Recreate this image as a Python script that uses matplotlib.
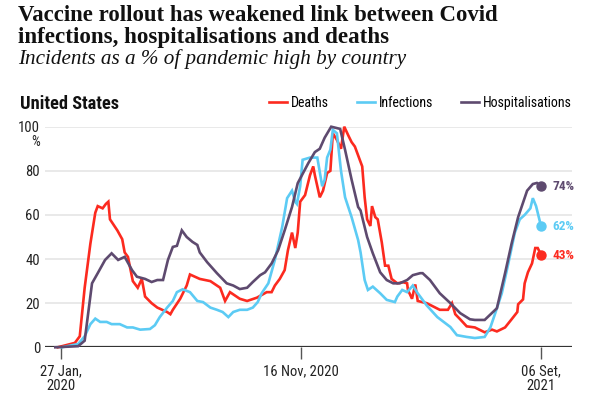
import matplotlib
matplotlib.use("Agg")
import matplotlib.pyplot as plt
import pandas as pd

# values (% of pandemic high)
deaths_dates = ["2020-01-23", "2020-02-13", "2020-02-19", "2020-02-25", "2020-03-03", "2020-03-09",
                "2020-03-12", "2020-03-18", "2020-03-22", "2020-03-25", "2020-03-27", "2020-04-05",
                "2020-04-11", "2020-04-14", "2020-04-18", "2020-04-24", "2020-04-30", "2020-05-05",
                "2020-05-09", "2020-05-17", "2020-05-24", "2020-06-05", "2020-06-09", "2020-06-12",
                "2020-06-21", "2020-06-29", "2020-07-03", "2020-07-15", "2020-07-28", "2020-08-09",
                "2020-08-15", "2020-08-21", "2020-09-02", "2020-09-11", "2020-09-23", "2020-10-05",
                "2020-10-11", "2020-10-15", "2020-10-21", "2020-10-27", "2020-10-31", "2020-11-05",
                "2020-11-09", "2020-11-12", "2020-11-15", "2020-11-21", "2020-11-27", "2020-12-01",
                "2020-12-03", "2020-12-09", "2020-12-13", "2020-12-18", "2020-12-22", "2020-12-25",
                "2020-12-30", "2021-01-04", "2021-01-08", "2021-01-13", "2021-01-17", "2021-01-21",
                "2021-01-30", "2021-02-02", "2021-02-05", "2021-02-09", "2021-02-11", "2021-02-15",
                "2021-02-18", "2021-02-23", "2021-02-27", "2021-03-03", "2021-03-07", "2021-03-14",
                "2021-03-21", "2021-03-26", "2021-03-27", "2021-04-01", "2021-04-05", "2021-04-08",
                "2021-04-19", "2021-04-27", "2021-05-05", "2021-05-15", "2021-05-20", "2021-05-24",
                "2021-05-30", "2021-06-07", "2021-06-17", "2021-06-29", "2021-07-08", "2021-07-14",
                "2021-07-24", "2021-08-01", "2021-08-08", "2021-08-09", "2021-08-15", "2021-08-17",
                "2021-08-21", "2021-08-26", "2021-08-30", "2021-09-02", "2021-09-06"]
deaths = [0, 2, 5, 27, 47, 61,
          64, 63, 65, 66, 58, 53,
          49, 43, 41, 30, 27, 31,
          23, 20, 18, 16, 15, 17,
          22, 28, 33, 31, 30, 27,
          21, 25, 22, 21, 22.5, 25,
          25, 28, 31, 35, 44, 52,
          45, 52, 66, 69, 78, 82,
          78, 68, 71, 79, 80, 97,
          94, 90, 100, 96, 93, 91,
          82, 68, 58, 55, 64, 59,
          58, 47.5, 37, 37, 31, 29,
          29.5, 29, 26, 22, 28.5, 21,
          20, 18.5, 17, 17, 20, 15,
          12.7, 9.5, 9, 6.8, 8, 7.2,
          9, 12.7, 16, 19.5, 21.7, 29,
          34, 38, 45, 45, 42]

infections_dates = ["2020-01-28", "2020-02-17", "2020-02-25", "2020-03-03", "2020-03-09", "2020-03-15",
                    "2020-03-23", "2020-03-29", "2020-04-08", "2020-04-17", "2020-04-24", "2020-05-03",
                    "2020-05-15", "2020-05-21", "2020-05-27", "2020-06-05", "2020-06-12", "2020-06-17",
                    "2020-06-24", "2020-07-03", "2020-07-12", "2020-07-19", "2020-07-28", "2020-08-05",
                    "2020-08-12", "2020-08-19", "2020-08-25", "2020-09-02", "2020-09-11", "2020-09-18",
                    "2020-09-24", "2020-09-29", "2020-10-07", "2020-10-15", "2020-10-24", "2020-10-30",
                    "2020-11-05", "2020-11-09", "2020-11-11", "2020-11-15", "2020-11-18", "2020-11-27",
                    "2020-12-06", "2020-12-12", "2020-12-15", "2020-12-18", "2020-12-22", "2020-12-25",
                    "2020-12-30", "2021-01-04", "2021-01-09", "2021-01-17", "2021-01-25", "2021-01-28",
                    "2021-02-02", "2021-02-06", "2021-02-12", "2021-02-21", "2021-03-01", "2021-03-11",
                    "2021-03-14", "2021-03-20", "2021-03-26", "2021-04-02", "2021-04-08", "2021-04-19",
                    "2021-05-02", "2021-05-18", "2021-05-26", "2021-06-07", "2021-06-17", "2021-06-29",
                    "2021-07-06", "2021-07-12", "2021-07-20", "2021-07-28", "2021-08-05", "2021-08-11",
                    "2021-08-17", "2021-08-24", "2021-08-27", "2021-08-31", "2021-09-02", "2021-09-06"]
infections = [0, 1.5, 5, 10.5, 13, 11.5,
              11.5, 10.5, 10.5, 9, 9, 8,
              8.3, 10, 13.7, 18, 21, 25,
              26.3, 25, 21, 20.5, 18, 17,
              16, 13.7, 16, 17, 17, 18,
              20.5, 24.6, 29, 39.6, 54.6, 67.6,
              71, 66, 65, 73, 85, 86,
              86, 73, 76, 86, 89.6, 98.6,
              97, 80, 68, 59, 48.6, 43,
              30.5, 26, 27.5, 24.5, 21.5, 20.5,
              23, 26, 25, 28, 24.5, 19,
              13.7, 9.2, 5.5, 4.7, 4.2, 4.7,
              9, 15.5, 24.5, 38, 52, 58,
              60, 63, 67.6, 64, 61, 55]

hosp_dates = ["2020-01-20", "2020-02-17", "2020-02-25", "2020-03-05", "2020-03-12", "2020-03-21",
              "2020-03-29", "2020-04-06", "2020-04-14", "2020-04-23", "2020-04-29", "2020-05-09",
              "2020-05-17", "2020-05-24", "2020-05-31", "2020-06-06", "2020-06-12", "2020-06-17",
              "2020-06-23", "2020-06-29", "2020-07-06", "2020-07-12", "2020-07-15", "2020-07-24",
              "2020-08-05", "2020-08-17", "2020-08-25", "2020-09-02", "2020-09-11", "2020-09-18",
              "2020-09-27", "2020-10-03", "2020-10-11", "2020-10-19", "2020-10-27", "2020-11-05",
              "2020-11-12", "2020-11-25", "2020-12-03", "2020-12-09", "2020-12-15", "2020-12-23",
              "2021-01-03", "2021-01-09", "2021-01-17", "2021-01-25", "2021-01-28", "2021-02-05",
              "2021-02-12", "2021-02-21", "2021-03-01", "2021-03-09", "2021-03-17", "2021-03-26",
              "2021-04-02", "2021-04-11", "2021-04-14", "2021-04-23", "2021-05-05", "2021-05-18",
              "2021-05-30", "2021-06-11", "2021-06-17", "2021-06-29", "2021-07-14", "2021-07-24",
              "2021-08-01", "2021-08-09", "2021-08-20", "2021-08-27", "2021-09-01", "2021-09-06"]
hosp = [0, 0.5, 3, 29, 33.6, 39.6,
        42.6, 39.6, 41, 35, 32, 31,
        29.6, 30.5, 30.5, 39.6, 45.5, 46,
        53, 50, 47.8, 46.4, 43, 38.6,
        33.6, 29, 28, 26.4, 27, 29.6,
        32.7, 34, 38, 44, 53, 63.6,
        74.4, 83.5, 88.5, 90, 95, 100,
        99, 89.5, 76, 63.6, 62, 50,
        42.6, 34, 30.5, 29, 29, 30.5,
        32.7, 33.6, 33.6, 30.5, 24.5, 20,
        15.5, 12.7, 12.4, 12.4, 17.7, 33.6,
        47, 59, 71, 74, 74.5, 73]

series_names = ["Deaths", "Infections", "Hospitalisations"]
series_colors = ["#fc2a1f", "#5ccbf4", "#5e4a6f"]
end_labels = ["43%", "62%", "74%"]

y_ticks = [0, 20, 40, 60, 80, 100]
x_tick_dates = ["2020-01-27", "2020-11-16", "2021-09-06"]
x_tick_labels = ["27 Jan,\n2020", "16 Nov, 2020", "06 Set,\n2021"]

narrow = ["Roboto Condensed", "DejaVu Sans Condensed", "Liberation Sans Narrow", "Lato"]
serif = ["Liberation Serif", "DejaVu Serif"]

fig = plt.figure(figsize=(5.89, 3.99), dpi=100)
ax = fig.add_axes([45 / 589, 1 - 347.3 / 399, 527 / 589, 220.6 / 399])

all_series = [
    (pd.to_datetime(deaths_dates), deaths),
    (pd.to_datetime(infections_dates), infections),
    (pd.to_datetime(hosp_dates), hosp),
]

handles = []
for (dates, vals), name, col, lab in zip(all_series, series_names, series_colors, end_labels):
    ln, = ax.plot(dates, vals, color=col, lw=1.9, label=name, clip_on=False,
                  solid_joinstyle="miter", zorder=3)
    handles.append(ln)
    ax.scatter([dates[-1]], [vals[-1]], s=42, color=col, zorder=4, clip_on=False)
    ax.annotate(lab, xy=(dates[-1], vals[-1]), xytext=(8.5, -0.5), textcoords="offset points",
                ha="left", va="center", color=col, fontsize=9.5, fontweight="bold",
                family=narrow, annotation_clip=False)

start = pd.Timestamp("2020-01-27")
ax.set_xlim(start - pd.Timedelta(days=19.6), start + pd.Timedelta(days=626))
ax.set_ylim(0, 100)

for s in ax.spines.values():
    s.set_visible(False)
ax.set_yticks(y_ticks)
ax.set_yticklabels([str(v) for v in y_ticks], family=narrow, fontsize=10.5, color="#222")
ax.tick_params(axis="y", length=0, pad=3.5)
ax.grid(axis="y", color="#e3e3e3", lw=1.1)
ax.set_axisbelow(True)
ax.axhline(0, color="#333333", lw=1.6, zorder=2)

ax.set_xticks(pd.to_datetime(x_tick_dates))
ax.set_xticklabels(x_tick_labels, family=narrow, fontsize=10.5, color="#222", linespacing=1.05)
ax.tick_params(axis="x", length=8.5, width=1.0, color="#555", pad=3.5)

ax.annotate("%", xy=(0, 100), xycoords=ax.get_yaxis_transform(), xytext=(-3.5, -11),
            textcoords="offset points", ha="right", va="center", family=narrow,
            fontsize=10, color="#222")

ax.legend(handles=handles, loc="center right", bbox_to_anchor=(1.0, 1.107), ncol=3,
          frameon=False, handlelength=1.3, handletextpad=0.3, columnspacing=2.0,
          borderaxespad=0, borderpad=0, prop={"family": narrow, "size": 10})

fig.text(18 / 589, 1 - 21 / 399, "Vaccine rollout has weakened link between Covid",
         family=serif, fontweight="bold", fontsize=16.4, va="baseline", color="#111")
fig.text(18 / 589, 1 - 43 / 399, "infections, hospitalisations and deaths",
         family=serif, fontweight="bold", fontsize=16.6, va="baseline", color="#111")
fig.text(18 / 589, 1 - 64 / 399, "Incidents as a % of pandemic high by country",
         family=serif, style="italic", fontsize=15.2, va="baseline", color="#111")
fig.text(20 / 589, 1 - 109 / 399, "United States", family=narrow, fontweight="bold",
         fontsize=13.2, va="baseline", color="#111")

fig.savefig("out.png", dpi=100)
